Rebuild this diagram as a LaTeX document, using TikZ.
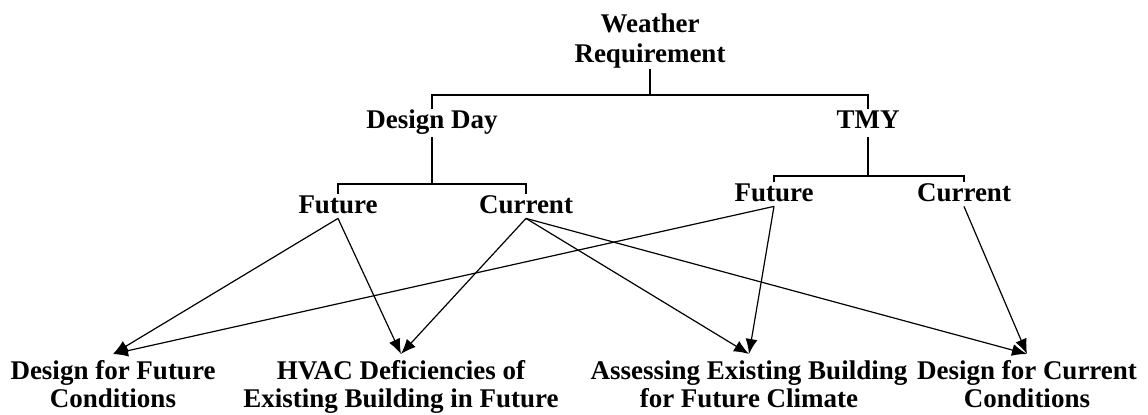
\documentclass[tikz,border=0pt]{standalone}
\usepackage{fontspec}
\setmainfont{Liberation Serif}
\usepackage{tikz}
\usetikzlibrary{arrows.meta}
\tikzset{>=latex}
\tikzset{
  lbl/.style={font=\fontsize{13.5}{14.2}\selectfont\bfseries, inner sep=2pt,
    text height=0.72em, text depth=0.25em},
  leaf/.style={lbl, text depth=0.05em},
  goal/.style={font=\fontsize{13.5}{14.2}\selectfont\bfseries, align=center,
    inner sep=3pt, anchor=north},
  tree/.style={line width=0.8pt},
  arr/.style={line width=0.6pt, -{Latex[length=7.5pt,width=6pt]}}
}

\begin{document}
\begin{tikzpicture}[x=0.5pt,y=-0.5pt]
\useasboundingbox (0,0) rectangle (1148,414);

% ---------------- Weather tree ----------------
\node[font=\fontsize{13.5}{14.2}\selectfont\bfseries, align=center,
  inner sep=0pt, anchor=south] (weather) at (650,69) {Weather\\[1.2pt]Requirement};

\node[lbl, anchor=base] (dd)  at (432,128) {Design Day};
\node[lbl, anchor=base] (tmy) at (868,128) {TMY};

\node[leaf, anchor=base] (ddf) at (338,213) {Future};
\node[leaf, anchor=base] (ddc) at (526,213) {Current};
\node[leaf, anchor=base] (tf)  at (774,201) {Future};
\node[leaf, anchor=base] (tc)  at (964,201) {Current};

\draw[tree] (dd.north)  -- ++(0,-14) -| (weather.south);
\draw[tree] (tmy.north) -- ++(0,-14) -| (weather.south);
\draw[tree] (ddf.north) -- ++(0,-10.5) -| (dd.south);
\draw[tree] (ddc.north) -- ++(0,-10.5) -| (dd.south);
\draw[tree] (tf.north)  -- ++(0,-6.5)  -| (tmy.south);
\draw[tree] (tc.north)  -- ++(0,-6.5)  -| (tmy.south);

% ---------------- Applications ----------------
\node[goal] (dff)    at (113,354) {Design for Future\\Conditions};
\node[goal] (hvac)   at (401,354) {HVAC Deficiencies of\\Existing Building in Future};
\node[goal] (assess) at (749,354) {Assessing Existing Building\\for Future Climate};
\node[goal] (dfc)    at (1027,354) {Design for Current\\Conditions};

% ---------------- Links ----------------
\draw[arr] (ddf.south) -- (dff.north);
\draw[arr] (ddf.south) -- (hvac.north);
\draw[arr] (ddc.south) -- (hvac.north);
\draw[arr] (ddc.south) -- (assess.north);
\draw[arr] (ddc.south) -- (dfc.north);
\draw[arr] (tf.south)  -- (dff.north);
\draw[arr] (tf.south)  -- (assess.north);
\draw[arr] (tc.south)  -- (dfc.north);

\end{tikzpicture}
\end{document}
